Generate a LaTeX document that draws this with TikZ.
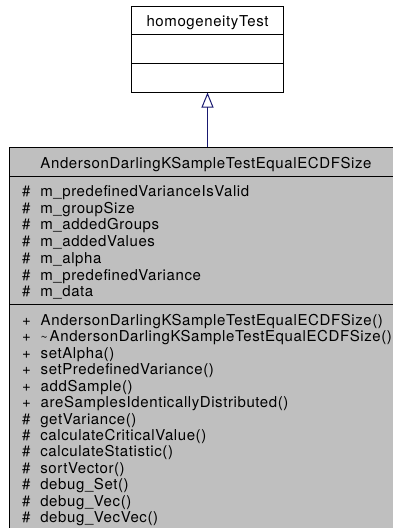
\documentclass[tikz,border=0pt]{standalone}
\usepackage{fontspec}
\setmainfont{TeX Gyre Heros}[LetterSpace=4]
\usetikzlibrary{arrows.meta}
\definecolor{classgray}{HTML}{BFBFBF}
\definecolor{inheritblue}{HTML}{191970}
\tikzset{
  classbox/.style={draw=black, line width=1pt, rectangle, inner sep=0pt},
  member/.style={anchor=base west, inner sep=0pt, font=\fontsize{15}{18}\selectfont},
  title/.style={anchor=base, inner sep=0pt, font=\fontsize{15}{18}\selectfont},
  sepline/.style={draw=black, line width=1pt},
  inherit/.style={draw=inheritblue, line width=1pt,
    -{Triangle[open, width=12pt, length=15pt]}},
}
\newcommand{\dtortilde}{{\fontsize{12}{14}\selectfont\textasciitilde}\hspace{2pt}}
\begin{document}
\begin{tikzpicture}[x=1pt, y=-1pt]
\useasboundingbox (0,0) rectangle (393,528);
\begin{scope}
\clip (0,0) rectangle (393,528);
% base class
\node[classbox, fill=white, minimum width=151.6pt, minimum height=86pt] (base) at (207.5,49) {};
\draw[sepline] (131.7,34.3) -- (283.3,34.3);
\draw[sepline] (131.7,63.3) -- (283.3,63.3);
\node[title] (basename) at (207.5,26.5) {homogeneityTest};
% derived class
\node[classbox, fill=classgray, minimum width=394pt, minimum height=392pt] (derived) at (206,343) {};
\draw[sepline] (9,176) -- (403,176);
\draw[sepline] (9,304.3) -- (403,304.3);
\node[title] (derivedname) at (206,168) {AndersonDarlingKSampleTestEqualECDFSize};
% attributes
\foreach \txt [count=\i from 0] in {
  m\_predefinedVarianceIsValid, m\_groupSize, m\_addedGroups, m\_addedValues,
  m\_alpha, m\_predefinedVariance, m\_data} {
  \node[member] (attr\i) at (22,196.3+16.75*\i) {\#\hspace{5pt} \txt};
}
% operations
\foreach \vis/\txt [count=\i from 0] in {
  +/AndersonDarlingKSampleTestEqualECDFSize(),
  +/\dtortilde AndersonDarlingKSampleTestEqualECDFSize(),
  +/setAlpha(), +/setPredefinedVariance(), +/addSample(),
  +/areSamplesIdenticallyDistributed(),
  \#/getVariance(), \#/calculateCriticalValue(), \#/calculateStatistic(),
  \#/sortVector(), \#/debug\_Set(), \#/debug\_Vec(), \#/debug\_VecVec()} {
  \node[member] (op\i) at (22,325.3+16.45*\i) {\vis\hspace{5pt} \txt};
}
\end{scope}
% generalization arrow
\draw[inherit] (base.south |- derived.north) -- (base.south);
\end{tikzpicture}
\end{document}
